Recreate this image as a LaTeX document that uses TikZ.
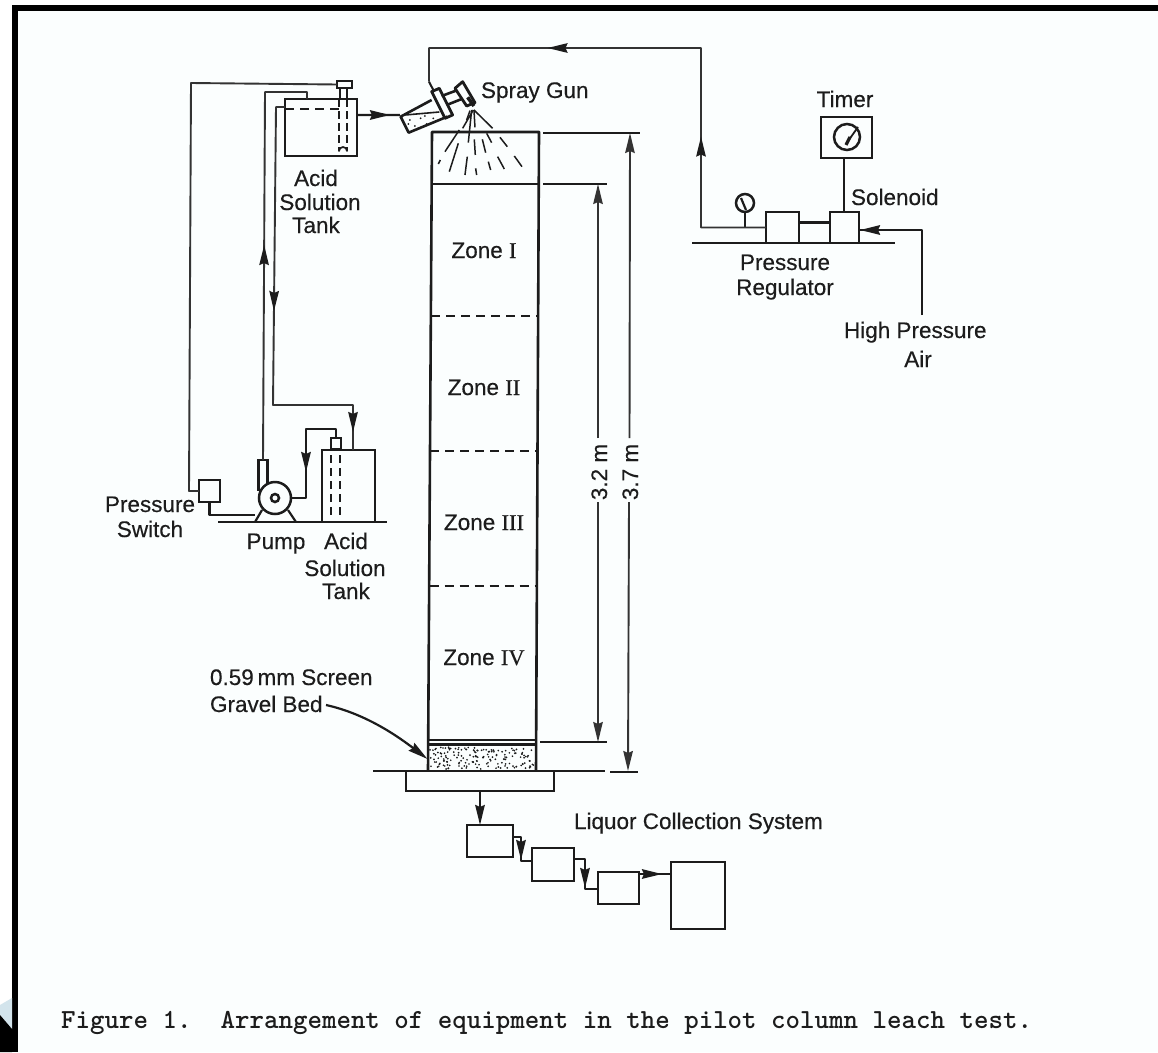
\documentclass[tikz,border=0pt]{standalone}
\usepackage{fontspec}
\setmainfont[FakeBold=0.35]{Liberation Sans}
\newfontfamily\romfont[FakeBold=0.35]{Liberation Serif}
\usetikzlibrary{arrows.meta,decorations.markings}
\definecolor{ink}{HTML}{1C1C1C}
\definecolor{paper}{HTML}{FBFEFE}
\definecolor{wedge}{HTML}{D3E4EC}
\tikzset{
  x=1pt,y=-1pt,
  line/.style={draw=ink,line width=2.2pt,line join=round},
  thin line/.style={draw=ink!90,line width=1.9pt,line join=round},
  box/.style={draw=ink,line width=2.8pt,inner sep=0pt,outer sep=0pt,rectangle},
  ring/.style={draw=ink,line width=2.5pt,inner sep=0pt,outer sep=0pt,circle},
  label/.style={inner sep=0pt,outer sep=0pt,font=\fontsize{22.5}{24}\selectfont,text=ink},
  dart/.style={-{Stealth[length=20pt,width=9.5pt,inset=2pt]}},
  flow/.style={postaction={decorate},decoration={markings,mark=at position #1 with {\arrow[ink]{Stealth[length=20pt,width=9.5pt,inset=2pt]}}}},
  flowb/.style 2 args={postaction={decorate},decoration={markings,mark=at position #1 with {\arrow[ink]{Stealth[length=20pt,width=9.5pt,inset=2pt]}},mark=at position #2 with {\arrow[ink]{Stealth[length=20pt,width=9.5pt,inset=2pt]}}}},
  level/.style={draw=ink,line width=1.7pt,dash pattern=on 9pt off 6pt},
}
\newcommand{\bx}[5]{\pgfmathsetmacro\bxW{#4-#2}\pgfmathsetmacro\bxH{#5-#3}\node[box,minimum width=\bxW pt,minimum height=\bxH pt] (#1) at ({(#2+#4)/2},{(#3+#5)/2}) {};}
\begin{document}
\begin{tikzpicture}
\useasboundingbox (0,0) rectangle (1158,1052);
% page and scan frame
\fill[white] (0,0) rectangle (1158,1052);
\fill[paper] (17,11) rectangle (1158,1052);
\fill[black] (12,5) rectangle (1158,11);
\fill[black] (12,5) rectangle (17.5,1052);
\fill[wedge] (0,1005) -- (12,998) -- (12,1029) -- (0,1015) -- cycle;
\fill[black] (0,1015) -- (12,1029) -- (12,1052) -- (0,1052) -- cycle;

% ---------- column
\coordinate (cTL) at (432,132); \coordinate (cTR) at (539,132);
\coordinate (cBL) at (428,771); \coordinate (cBR) at (536,771);
\pgfmathsetseed{7}
\foreach \i in {1,...,170}{\fill[ink] ({430+104*rnd},{747+22*rnd}) circle (0.95pt);}
\draw[line,line width=2.6pt] (cBL) -- (cTL) -- (cTR) -- (cBR);
\draw[line] (431.7,184) -- (539,184);
\draw[line] (428.5,740) -- (536,740);
\draw[line] (428.5,744.5) -- (536,744.5);
\draw[level] (431,316) -- (538,316);
\draw[level] (430,451) -- (538,451);
\draw[level] (429.5,586) -- (537,586);
\node[label,anchor=base] (z1) at (484,258) {Zone {\romfont I}};
\node[label,anchor=base] (z2) at (484,395) {Zone {\romfont II}};
\node[label,anchor=base] (z3) at (484,530) {Zone {\romfont III}};
\node[label,anchor=base] (z4) at (484,665) {Zone {\romfont IV}};

% ground under column and collector
\coordinate (gA) at (373,771); \coordinate (gB) at (605,771);
\coordinate (gC) at (610,772); \coordinate (gD) at (638,772);
\draw[line] (gA) -- (gB);
\draw[line] (gC) -- (gD);
\bx{base}{406}{771}{554}{791}

% ---------- dimensions
\coordinate (t37a) at (543,133); \coordinate (t37b) at (640,133);
\coordinate (t32a) at (543,184); \coordinate (t32b) at (607,184);
\coordinate (b32a) at (540,742); \coordinate (b32b) at (607,742);
\draw[line] (t37a) -- (t37b);
\draw[line] (t32a) -- (t32b);
\draw[line] (b32a) -- (b32b);
\node[label,rotate=90,anchor=base] (l32) at (607,472) {3.2 m};
\node[label,rotate=90,anchor=base] (l37) at (638,472) {3.7 m};
\coordinate (d32t) at (598,184); \coordinate (d32b) at (598,742);
\coordinate (d37t) at (630,133); \coordinate (d37b) at (628,771);
\coordinate (d32u) at (598,438); \coordinate (d32l) at (598,502);
\coordinate (d37u) at (629.5,438); \coordinate (d37l) at (629,502);
\draw[thin line,dart] (d32u) -- (d32t);
\draw[thin line,dart] (d32l) -- (d32b);
\draw[thin line,dart] (d37u) -- (d37t);
\draw[thin line,dart] (d37l) -- (d37b);

% ---------- upper tank
\bx{tankU}{285}{99}{357}{156}
\bx{capU}{337}{81}{352}{88}
\bx{stemU}{340}{88}{347}{99}
\draw[level] (285,109) -- (339,109);
\draw[line,line width=1.7pt,dash pattern=on 8pt off 4pt] (339,99) -- (339,148);
\draw[line,line width=1.7pt,dash pattern=on 8pt off 4pt] (347,99) -- (347,148);
\draw[line,line width=1.7pt] (339,148) -- (339,151) arc[start angle=180,end angle=360,radius=4] -- (347,148);
\node[label,anchor=base] (uA) at (316,186) {Acid};
\node[label,anchor=base] (uS) at (320,210) {Solution};
\node[label,anchor=base] (uT) at (316,233) {Tank};

% ---------- spray gun, in a finer grid
\begin{scope}[shift={(170,20)},x=0.3333pt,y=-0.3333pt]
  \draw[line,line width=2.6pt] (785,240) -- (692,290) -- (716,338) -- (832,290);
  \draw[line,line width=1.6pt] (706,285) -- (808,276);
  \foreach \p in {(720,300),(735,318),(752,295),(770,312),(790,295),(745,325),(765,288),(715,312)}{\fill[ink] \p circle (3);}
  \draw[line,line width=2.8pt] (785,215) -- (808,205) -- (848,285) -- (825,295) -- cycle;
  \draw[line,line width=2.6pt] (815,228) -- (858,212);
  \draw[line,line width=2.6pt] (830,255) -- (875,237);
  \draw[line,line width=2.8pt] (855,205) -- (878,185) -- (915,248) -- (890,258) -- cycle;
  \draw[ink,line width=3.5pt] (893,232) -- (912,258);
  \coordinate (gunair) at (777,185);
  \coordinate (gunliq) at (690,285);
  \draw[ink,line width=2pt] (777,185) -- (790,210);
  \foreach \xa/\ya/\xb/\yb in {868/330/825/395,865/370/838/455,805/432/811/420,892/410/885/465,917/445/920/465,913/358/916/405,937/358/947/398,955/425/962/450,983/410/1003/447,1033/408/1056/440,990/352/1012/380,950/340/965/368,905/270/895/368,910/270/878/325,912/270/968/325,912/270/915/322,900/272/890/300}
    {\draw[ink,line width=1.5pt] (\xa,\ya) -- (\xb,\yb);}
\end{scope}
\node[label,anchor=base west] (spray) at (481,98) {Spray Gun};

% ---------- lower tank and pump
\coordinate (gL1) at (218,522); \coordinate (gL2) at (387,522);
\draw[line] (gL1) -- (gL2);
\bx{tankL}{322}{450}{375}{522}
\bx{capL}{331}{438}{341}{449}
\draw[line,line width=1.7pt,dash pattern=on 8pt off 5pt] (331,455) -- (331,515);
\draw[line,line width=1.7pt,dash pattern=on 8pt off 5pt] (340,455) -- (340,515);
\node[box,minimum width=9pt,minimum height=30pt] (outlet) at (263,475) {};
\draw[line] (255,522) -- (262,510);
\draw[line] (296,522) -- (288,510);
\node[ring,fill=paper,minimum size=32pt] (pump) at (275,498) {};
\node[ring,minimum size=8pt] (pumpc) at (275,498) {};
\bx{psw}{199}{480}{220}{502}
\node[label,anchor=base] (pw1) at (150,512) {Pressure};
\node[label,anchor=base] (pw2) at (150,537) {Switch};
\node[label,anchor=base] (pumpl) at (276,549) {Pump};
\node[label,anchor=base] (lA) at (346,549) {Acid};
\node[label,anchor=base] (lS) at (345,576) {Solution};
\node[label,anchor=base] (lT) at (346,599) {Tank};

% ---------- liquid and signal lines
\coordinate (p1) at (191,83); \coordinate (p2) at (189,491);
\draw[thin line] (capU.west) -- (p1) -- (p2) -- (psw.west);
\coordinate (s1) at (209.5,515); \coordinate (s2) at (255,515);
\draw[line] (psw.south) -- (s1) -- (s2);
\coordinate (o1) at (265,92); \coordinate (o2) at (307,92); \coordinate (o3) at (307,99);
\draw[thin line,flow=215pt] (outlet.north) -- (o1) -- (o2) -- (o3);
\coordinate (r1) at (276,107); \coordinate (r2) at (273,405); \coordinate (r3) at (353,405); \coordinate (r4) at (353,450);
\draw[thin line,flowb={213pt}{414pt}] (tankU.west |- r1) -- (r1) -- (r2) -- (r3) -- (r4);
\coordinate (q1) at (336,429); \coordinate (q2) at (306,429); \coordinate (q3) at (306,498);
\draw[line,flow=82pt] (capL.north) -- (q1) -- (q2) -- (q3) -- (pump.east);
\coordinate (gl) at (357,115);
\draw[line,flow=33pt] (gl) -- (gunliq);

% ---------- air system
\bx{reg}{766}{212}{799}{243}
\bx{sol}{830}{212}{859}{243}
\bx{timer}{821}{117}{872}{158}
\coordinate (gR1) at (692,243); \coordinate (gR2) at (895,243);
\draw[line] (gR1) -- (gR2);
\node[ring,minimum size=26pt] (dial) at (847,137) {};
\draw[ink,line width=1.8pt] (846,144) -- (858,127);
\draw[ink,line width=3.2pt] (846,145) -- (850,137);
\node[ring,minimum size=18pt] (gauge) at (745,203) {};
\draw[ink,line width=2.2pt] (741,198) -- (746,210);
\coordinate (gj) at (745,227.5);
\draw[line] (gauge.south) -- (gj);
\coordinate (a1) at (701,227.5); \coordinate (a2) at (701,48); \coordinate (a3) at (429,48);
\draw[thin line,flowb={156pt}{398pt}] (reg.west) -- (a1) -- (a2) -- (a3) -- (gunair);
\coordinate (tj) at (844,158); \coordinate (sj) at (844,212);
\draw[line] (tj) -- (sj);
\draw[line] ([yshift=5pt]reg.east) -- ([yshift=5pt]sol.west);
\coordinate (h1) at (922,315); \coordinate (h2) at (922,230);
\draw[line,flow=147pt] (h1) -- (h2) -- (sol.east |- h2);
\node[label,anchor=base] (timerl) at (845,107) {Timer};
\node[label,anchor=base west] (soll) at (851,205) {Solenoid};
\node[label,anchor=base] (pr1) at (785,270) {Pressure};
\node[label,anchor=base] (pr2) at (785,295) {Regulator};
\node[label,anchor=base west] (hp) at (844,338) {High Pressure};
\node[label,anchor=base] (air) at (918,367) {Air};

% ---------- screen label
\node[label,anchor=base west] (scr) at (210,685) {0.59\,mm Screen};
\node[label,anchor=base west] (grv) at (210,712) {Gravel Bed};
\coordinate (grvs) at (326,705);
\coordinate (grvtip) at (427.5,759);
\draw[line,dart] (grvs) .. controls (367,714) and (400,738) .. (grvtip);

% ---------- liquor collection
\bx{c1}{467}{825}{513}{857}
\bx{c2}{532}{848}{574}{881}
\bx{c3}{598}{872}{639}{904}
\bx{c4}{671}{862}{725}{929}
\coordinate (b1) at (480,791); \coordinate (b2) at (480,825);
\draw[line,dart] (b1) -- (b2);
\coordinate (k1) at (521,837); \coordinate (k2) at (521,861);
\draw[line,flow=31pt] (c1.east |- k1) -- (k1) -- (k2) -- (c2.west |- k2);
\coordinate (m1) at (585,859); \coordinate (m2) at (585,889);
\draw[line,flow=40pt] (c2.east |- m1) -- (m1) -- (m2) -- (c3.west |- m2);
\coordinate (n1) at (655,874);
\draw[line,flow=23pt] (c3.east |- n1) -- (c4.west |- n1);
\node[label,anchor=base west] (liq) at (574,829) {Liquor Collection System};

% ---------- caption
\node[anchor=base west,inner sep=0pt,font=\fontsize{27.6}{30}\selectfont\ttfamily\bfseries,text=ink] (cap) at (61,1028) {Figure 1.\ \ Arrangement of equipment in the pilot column leach test.};
\end{tikzpicture}
\end{document}
